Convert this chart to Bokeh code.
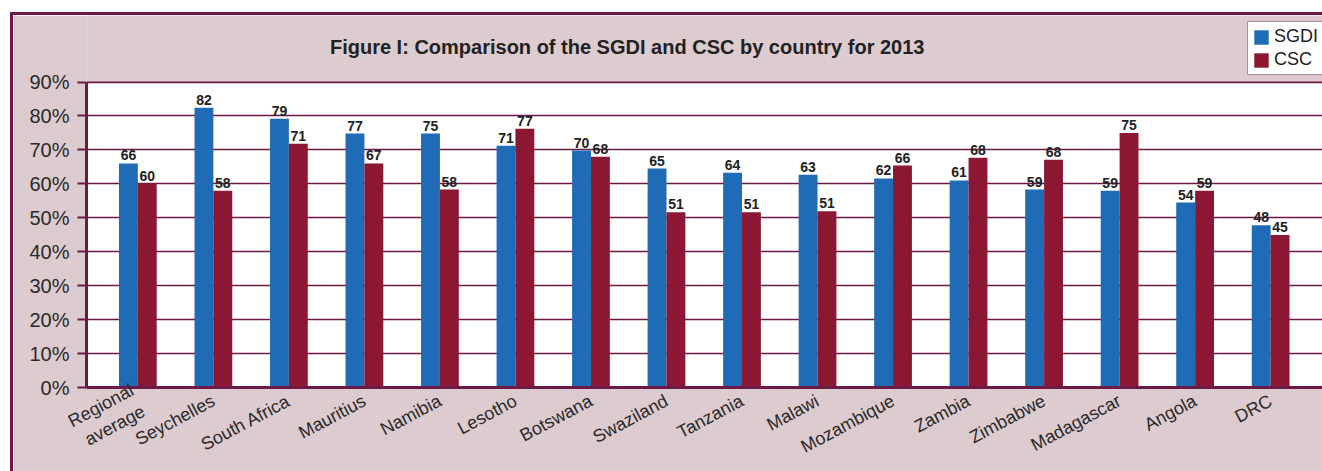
from bokeh.plotting import figure
from bokeh.models import FixedTicker, Legend, LegendItem, ColumnDataSource, BoxAnnotation, Label
from bokeh.transform import dodge
from bokeh.core.properties import value
from bokeh.embed import file_html
from bokeh.resources import INLINE

categories = ["Regional\naverage", "Seychelles", "South Africa", "Mauritius", "Namibia",
              "Lesotho", "Botswana", "Swaziland", "Tanzania", "Malawi", "Mozambique",
              "Zambia", "Zimbabwe", "Madagascar", "Angola", "DRC"]
sgdi = [66.0, 82.4, 79.2, 74.8, 74.8, 71.2, 69.8, 64.5, 63.3, 62.7, 61.6, 61.0, 58.3, 58.0, 54.5, 47.8]
csc = [60.1, 58.0, 71.8, 66.0, 58.3, 76.2, 68.0, 51.6, 51.6, 51.9, 65.4, 67.7, 67.1, 75.0, 58.0, 44.9]
sgdi_labels = ["66", "82", "79", "77", "75", "71", "70", "65", "64", "63", "62", "61", "59", "59", "54", "48"]
csc_labels = ["60", "58", "71", "67", "58", "77", "68", "51", "51", "51", "66", "68", "68", "75", "59", "45"]
y_ticks = [0, 10, 20, 30, 40, 50, 60, 70, 80, 90]
y_tick_labels = ["0%", "10%", "20%", "30%", "40%", "50%", "60%", "70%", "80%", "90%"]
title_text = "Figure I: Comparison of the SGDI and CSC by country for 2013"

BLUE = "#1f6bb5"
RED = "#8c1733"
MAROON = "#6b1a46"
PINK = "#dccbcf"
FONT = "Liberation Sans"

idx = list(range(len(categories)))
src = ColumnDataSource(dict(x=idx, sgdi=sgdi, csc=csc, sl=sgdi_labels, cl=csc_labels))

p = figure(width=1312, height=459, output_backend="svg", toolbar_location=None,
           x_range=(-0.68, 15.70), y_range=(0, 109.6),
           min_border_left=73, min_border_top=0, min_border_bottom=82, min_border_right=2,
           margin=(12, 0, 0, 10),
           styles={"border-left": "3px solid " + MAROON, "border-top": "3px solid " + MAROON})
p.border_fill_color = PINK
p.background_fill_color = PINK
p.outline_line_color = None

# white plot area (0-90%)
plot_area = BoxAnnotation(bottom=0, top=90, fill_color="white", fill_alpha=1,
                          line_color=MAROON, line_width=2, level="image")
p.add_layout(plot_area)

b1 = p.vbar(x=dodge("x", -0.125, range=p.x_range), top="sgdi", width=0.25, source=src,
            fill_color=BLUE, line_color=None)
b2 = p.vbar(x=dodge("x", 0.125, range=p.x_range), top="csc", width=0.25, source=src,
            fill_color=RED, line_color=None)

for col, lab, off in (("sgdi", "sl", -0.125), ("csc", "cl", 0.125)):
    p.text(x=dodge("x", off, range=p.x_range), y=col, text=lab, source=src,
           text_align="center", text_baseline="bottom", y_offset=-3,
           text_font=value(FONT), text_font_size="14px", text_font_style="bold",
           text_color="#222222")

title = Label(x=6.48, y=100.3, text=title_text, text_align="center", text_baseline="middle",
              text_font=FONT, text_font_size="20px", text_font_style="bold",
              text_color="#222222")
p.add_layout(title)

# axes
p.xaxis.ticker = FixedTicker(ticks=idx)
p.xaxis.major_label_overrides = {i: c for i, c in zip(idx, categories)}
p.xaxis.major_label_orientation = 0.49
p.xaxis.major_tick_line_color = None
p.xaxis.minor_tick_line_color = None
p.xaxis.axis_line_color = MAROON
p.xaxis.axis_line_width = 3
p.xaxis.major_label_text_font = FONT
p.xaxis.major_label_text_font_size = "18px"
p.xaxis.major_label_text_color = "#2a2a2a"
p.xaxis.major_label_standoff = 6

p.yaxis.ticker = FixedTicker(ticks=y_ticks)
p.yaxis.bounds = (0, 90)
p.yaxis.major_label_overrides = {t: l for t, l in zip(y_ticks, y_tick_labels)}
p.yaxis.axis_line_color = MAROON
p.yaxis.axis_line_width = 3
p.yaxis.major_tick_line_color = MAROON
p.yaxis.major_tick_line_width = 2
p.yaxis.major_tick_out = 9
p.yaxis.major_tick_in = 0
p.yaxis.minor_tick_line_color = None
p.yaxis.major_label_text_font = FONT
p.yaxis.major_label_text_font_size = "20px"
p.yaxis.major_label_text_color = "#2a2a2a"
p.yaxis.major_label_standoff = 8

p.xgrid.grid_line_color = None
p.ygrid.ticker = FixedTicker(ticks=y_ticks)
p.ygrid.grid_line_color = MAROON
p.ygrid.grid_line_width = 1.5

legend = Legend(items=[LegendItem(label="SGDI", renderers=[b1]),
                       LegendItem(label="CSC", renderers=[b2])],
                location=(1161, 312))
legend.background_fill_color = "white"
legend.background_fill_alpha = 1
legend.border_line_color = MAROON
legend.border_line_width = 1.5
legend.label_text_font = FONT
legend.label_text_font_size = "18px"
legend.label_text_color = "#222222"
legend.glyph_width = 18
legend.glyph_height = 18
legend.spacing = 2
legend.padding = 4
legend.margin = 0
legend.label_standoff = 4
legend.label_height = 18
p.add_layout(legend, "center")

open("out.html", "w").write(file_html(p, INLINE))
